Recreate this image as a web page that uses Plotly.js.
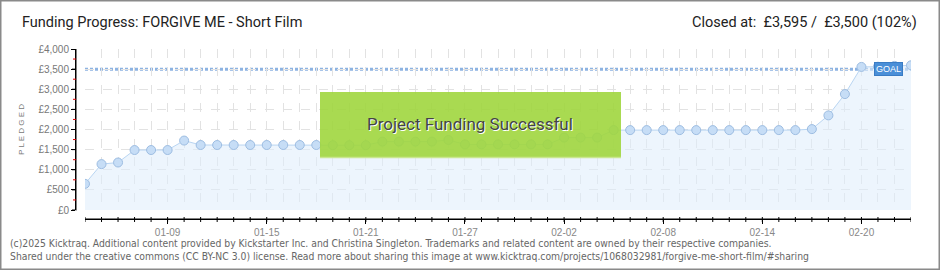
<!DOCTYPE html>
<html>
<head>
<meta charset="utf-8">
<script src="https://cdn.plot.ly/plotly-3.0.1.min.js"></script>
<style>
html,body{margin:0;padding:0;background:#fff;}
#chart{width:940px;height:270px;}
</style>
</head>
<body>
<div id="chart"></div>
<script>
const dates = ["2025-01-04","2025-01-05","2025-01-06","2025-01-07","2025-01-08","2025-01-09","2025-01-10","2025-01-11","2025-01-12","2025-01-13","2025-01-14","2025-01-15","2025-01-16","2025-01-17","2025-01-18","2025-01-19","2025-01-20","2025-01-21","2025-01-22","2025-01-23","2025-01-24","2025-01-25","2025-01-26","2025-01-27","2025-01-28","2025-01-29","2025-01-30","2025-01-31","2025-02-01","2025-02-02","2025-02-03","2025-02-04","2025-02-05","2025-02-06","2025-02-07","2025-02-08","2025-02-09","2025-02-10","2025-02-11","2025-02-12","2025-02-13","2025-02-14","2025-02-15","2025-02-16","2025-02-17","2025-02-18","2025-02-19","2025-02-20","2025-02-21","2025-02-22","2025-02-23"];
const pledged = [650,1140,1180,1490,1490,1490,1725,1615,1615,1615,1615,1615,1615,1615,1615,1610,1610,1610,1700,1700,1700,1700,1740,1630,1630,1630,1630,1630,1630,1800,1800,1800,1985,1985,1985,1985,1985,1985,1985,1985,1985,1985,1985,1985,2010,2350,2880,3555,3560,3580,3595];
const goal = 3500;
const xTickVals = ["2025-01-09","2025-01-15","2025-01-21","2025-01-27","2025-02-02","2025-02-08","2025-02-14","2025-02-20"];
const xTickText = ["01-09","01-15","01-21","01-27","02-02","02-08","02-14","02-20"];
const yTickVals = [0,500,1000,1500,2000,2500,3000,3500,4000];
const yTickText = ["£0","£500","£1,000","£1,500","£2,000","£2,500","£3,000","£3,500","£4,000"];
const yMinorVals = [250,750,1250,1750,2250,2750,3250,3750];

const W = 940, H = 270;
const px = v => v / W;
const py = v => 1 - v / H;
const xRange = [dates[0], dates[dates.length - 1]];
const yRange = [0, 4000];
const DAY = 86400000;

const trace = {
  x: dates, y: pledged, type: 'scatter', mode: 'lines+markers',
  line: {color: '#b9d5f2', width: 1},
  marker: {size: 9, color: '#c6ddf6', line: {color: '#9dbde2', width: 1}},
  fill: 'tozeroy', fillcolor: 'rgba(222,236,252,0.55)',
  hoverinfo: 'skip'
};
// empty carriers so the offset label axes get drawn
const yAxisCarrier = {x: [], y: [], type: 'scatter', mode: 'markers', xaxis: 'x2', yaxis: 'y2', hoverinfo: 'skip'};
const xAxisCarrier = {x: [], y: [], type: 'scatter', mode: 'markers', xaxis: 'x3', yaxis: 'y3', hoverinfo: 'skip'};

// axis lines and ticks (decoration)
const axisShapes = [
  {type: 'line', xref: 'paper', yref: 'paper', x0: px(76), x1: px(76), y0: py(210.5), y1: py(49),
   line: {color: '#000', width: 1}, layer: 'above'},
  {type: 'line', xref: 'paper', yref: 'paper', x0: px(85), x1: px(911), y0: py(219), y1: py(219),
   line: {color: '#000', width: 1}, layer: 'above'}
];
yTickVals.forEach(v => axisShapes.push({type: 'line', xref: 'paper', yref: 'y', x0: px(72), x1: px(76), y0: v, y1: v,
  line: {color: '#000', width: 1}, layer: 'above'}));
yMinorVals.forEach(v => axisShapes.push({type: 'line', xref: 'paper', yref: 'y', x0: px(73), x1: px(76), y0: v, y1: v,
  line: {color: '#e00000', width: 1}, layer: 'above'}));
dates.forEach(d => axisShapes.push({type: 'line', xref: 'x', yref: 'paper', x0: d, x1: d, y0: py(217), y1: py(222),
  line: {color: '#000', width: 1}, layer: 'above'}));

const layout = {
  width: W, height: H,
  margin: {l: 0, r: 0, t: 0, b: 0, pad: 0},
  paper_bgcolor: '#ffffff', plot_bgcolor: 'rgba(0,0,0,0)',
  showlegend: false,
  font: {family: 'Liberation Sans, Arial, sans-serif'},
  xaxis: {
    type: 'date', domain: [px(85), px(911)], range: xRange, anchor: 'y',
    tickmode: 'array', tickvals: xTickVals, showticklabels: false, ticks: '',
    showline: false, showgrid: true, gridcolor: '#e2e2e2', griddash: 'dash', gridwidth: 1,
    minor: {tick0: dates[0], dtick: DAY, showgrid: true, gridcolor: '#e2e2e2', griddash: 'dash', ticks: ''},
    zeroline: false, fixedrange: true
  },
  yaxis: {
    domain: [py(210), py(49)], range: yRange, anchor: 'x',
    tickmode: 'array', tickvals: yTickVals, showticklabels: false, ticks: '',
    showline: false, showgrid: true, gridcolor: '#e2e2e2', griddash: 'dash',
    zeroline: false, fixedrange: true
  },
  xaxis2: {domain: [px(76), px(911)], anchor: 'y2', visible: false, range: [0, 1], fixedrange: true},
  yaxis2: {
    domain: [py(210), py(49)], range: yRange, anchor: 'x2',
    tickmode: 'array', tickvals: yTickVals, ticktext: yTickText,
    ticks: 'outside', ticklen: 4, tickcolor: '#000', showline: true, linecolor: '#000', showgrid: false,
    tickfont: {size: 10, color: '#777'}, zeroline: false, fixedrange: true
  },
  xaxis3: {
    type: 'date', domain: [px(85), px(911)], range: xRange, anchor: 'y3',
    tickmode: 'array', tickvals: xTickVals, ticktext: xTickText,
    ticks: 'outside', ticklen: 4, tickcolor: '#000', showline: true, linecolor: '#000', showgrid: false,
    tickfont: {size: 10, color: '#888'}, zeroline: false, fixedrange: true
  },
  yaxis3: {domain: [py(219), py(49)], anchor: 'x3', visible: false, range: [0, 1], fixedrange: true},
  shapes: [
    {type: 'line', xref: 'paper', yref: 'y', x0: px(85), x1: px(911), y0: goal, y1: goal,
     line: {color: '#8db3e2', width: 3, dash: '3px,2px'}, layer: 'below'},
    {type: 'rect', xref: 'paper', yref: 'paper', x0: px(320), x1: px(621), y0: py(158), y1: py(92),
     fillcolor: 'rgba(160,214,62,0.9)', line: {width: 0}, layer: 'above'},
    {type: 'line', xref: 'paper', yref: 'paper', x0: px(320), x1: px(621), y0: py(157.5), y1: py(157.5),
     line: {color: '#c9e78f', width: 1.5}, layer: 'above'},
    {type: 'rect', xref: 'paper', yref: 'paper', x0: 0, x1: 1, y0: 0, y1: 1,
     line: {color: '#8a8a8a', width: 3}, fillcolor: 'rgba(0,0,0,0)', layer: 'above'}
  ].concat(axisShapes),
  annotations: [
    {xref: 'paper', yref: 'paper', x: px(20), y: py(22), xanchor: 'left', yanchor: 'middle', showarrow: false,
     text: 'Funding Progress: FORGIVE ME - Short Film', font: {size: 14.5, color: '#222', family: 'Roboto, Liberation Sans, sans-serif'}},
    {xref: 'paper', yref: 'paper', x: px(919), y: py(22), xanchor: 'right', yanchor: 'middle', showarrow: false,
     text: 'Closed at:  £3,595 /  £3,500 (102%)', font: {size: 14.5, color: '#222', family: 'Roboto, Liberation Sans, sans-serif'}},
    {xref: 'paper', yref: 'paper', x: px(22), y: py(130), xanchor: 'center', yanchor: 'middle', showarrow: false,
     textangle: -90, text: 'P L E D G E D', font: {size: 8, color: '#777'}},
    {xref: 'paper', yref: 'paper', x: px(470.5), y: py(125), xanchor: 'center', yanchor: 'middle', showarrow: false,
     text: 'Project Funding Successful', font: {size: 17, color: '#fff', family: 'Roboto, Liberation Sans, sans-serif'}},
    {xref: 'paper', yref: 'paper', x: px(469.5), y: py(124), xanchor: 'center', yanchor: 'middle', showarrow: false,
     text: 'Project Funding Successful', font: {size: 17, color: '#444', family: 'Roboto, Liberation Sans, sans-serif'}},
    {xref: 'paper', yref: 'y', x: px(888), y: goal, xanchor: 'center', yanchor: 'middle', showarrow: false,
     text: 'GOAL', bgcolor: '#4a8fd8', bordercolor: '#3a7cc4', borderwidth: 1, borderpad: 1,
     font: {size: 9, color: '#fff'}},
    {xref: 'paper', yref: 'paper', x: px(8), y: py(243), xanchor: 'left', yanchor: 'middle', showarrow: false,
     text: '(c)2025 Kicktraq. Additional content provided by Kickstarter Inc. and Christina Singleton. Trademarks and related content are owned by their respective companies.',
     font: {size: 10.3, color: '#666', family: 'DejaVu Sans Condensed, Liberation Sans Narrow, sans-serif'}},
    {xref: 'paper', yref: 'paper', x: px(8), y: py(256), xanchor: 'left', yanchor: 'middle', showarrow: false,
     text: 'Shared under the creative commons (CC BY-NC 3.0) license. Read more about sharing this image at www.kicktraq.com/projects/1068032981/forgive-me-short-film/#sharing',
     font: {size: 10.3, color: '#666', family: 'DejaVu Sans Condensed, Liberation Sans Narrow, sans-serif'}}
  ]
};

Plotly.newPlot('chart', [trace, yAxisCarrier, xAxisCarrier], layout, {displayModeBar: false, staticPlot: true});
</script>
</body>
</html>
